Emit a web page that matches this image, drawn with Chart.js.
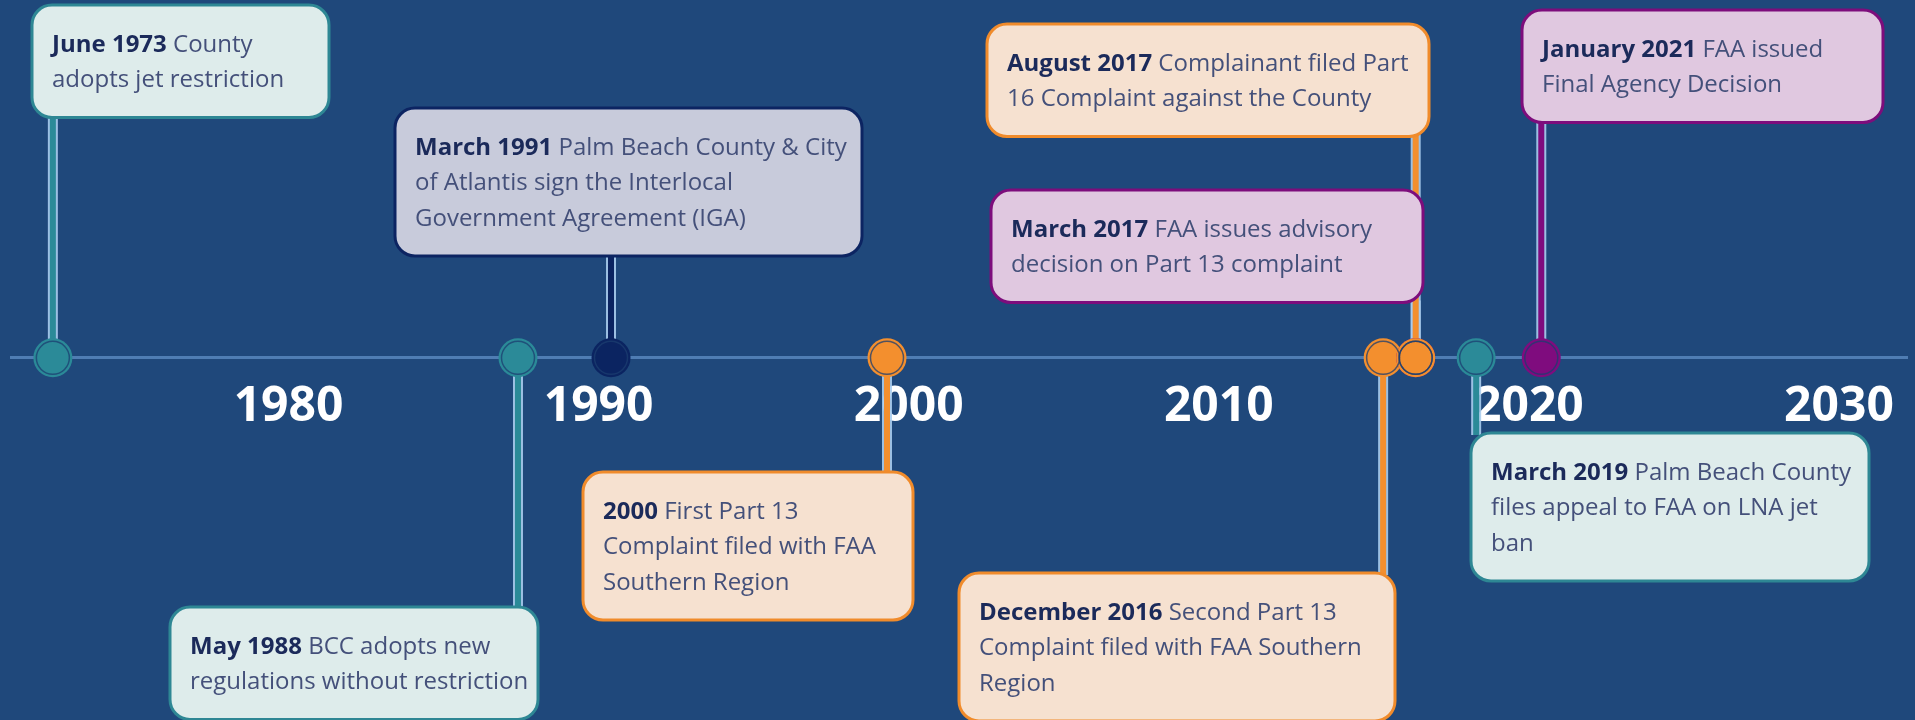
<!DOCTYPE html>
<html>
<head>
<meta charset="utf-8">
<script src="https://cdn.jsdelivr.net/npm/chart.js@4.4.1/dist/chart.umd.min.js"></script>
<style>
  html, body { margin: 0; padding: 0; background: #1f487b; }
  #wrap { width: 1915px; height: 720px; }
</style>
</head>
<body>
<div id="wrap"><canvas id="timeline" width="1915" height="720"></canvas></div>
<script>
// event positions on the year axis
const eventYears = [1972.4, 1987.4, 1990.4, 1999.3, 2015.3, 2016.35, 2016.35, 2018.3, 2020.4];
const eventTitles = ["June 1973", "May 1988", "March 1991", "2000", "December 2016",
  "March 2017", "August 2017", "March 2019", "January 2021"];
const eventLines = [
  ["County", "adopts jet restriction"],
  ["BCC adopts new", "regulations without restriction"],
  ["Palm Beach County & City", "of Atlantis sign the Interlocal", "Government Agreement (IGA)"],
  ["First Part 13", "Complaint filed with FAA", "Southern Region"],
  ["Second Part 13", "Complaint filed with FAA Southern", "Region"],
  ["FAA issues advisory", "decision on Part 13 complaint"],
  ["Complainant filed Part", "16 Complaint against the County"],
  ["Palm Beach County", "files appeal to FAA on LNA jet", "ban"],
  ["FAA issued", "Final Agency Decision"],
];
const eventGroups = ["county", "county", "iga", "complaint", "complaint", "faa", "complaint", "county", "faa"];
const tickYears = [1980, 1990, 2000, 2010, 2020, 2030];

// callout box layout (pixels): left offset from the marker, top, width
const boxDx = [-21, -348, -216, -304, -424, -425, -429, -5, -19];
const boxTop = [5, 607, 108, 472, 573, 190, 24, 433, 10];
const boxWidth = [297, 368, 467, 330, 436, 432, 442, 398, 361];

const groupStyle = {
  county:    { mark: "#2b8a98", edge: "#2e8794", fill: "#deeceb" },
  iga:       { mark: "#0b2461", edge: "#0c2462", fill: "#c8cbdb" },
  complaint: { mark: "#f38f2e", edge: "#f08b2b", fill: "#f6e1d0" },
  faa:       { mark: "#7f0c7e", edge: "#7d0d7c", fill: "#e0c8e0" },
};

const FONT = "'Open Sans', 'Noto Sans', sans-serif";
const TEXT_SIZE = 24;
const LINE_GAP = 35.5;

function roundBox(ctx, x, y, w, h, r) {
  ctx.beginPath();
  ctx.moveTo(x + r, y);
  ctx.arcTo(x + w, y, x + w, y + h, r);
  ctx.arcTo(x + w, y + h, x, y + h, r);
  ctx.arcTo(x, y + h, x, y, r);
  ctx.arcTo(x, y, x + w, y, r);
  ctx.closePath();
}

function boxHeight(i) {
  return 77 + LINE_GAP * (eventLines[i].length - 1);
}

// stems under the markers, callout boxes on top
const timelinePlugin = {
  id: "timeline",
  beforeDatasetsDraw(chart) {
    const ctx = chart.ctx;
    const xs = chart.scales.x;
    const y0 = chart.scales.y.getPixelForValue(0);
    ctx.save();
    eventYears.forEach((yr, i) => {
      const px = xs.getPixelForValue(yr);
      const top = boxTop[i];
      const end = top < y0 ? top + boxHeight(i) - 2 : top + 2;
      ctx.lineCap = "butt";
      ctx.strokeStyle = "rgba(170,205,238,0.9)";
      ctx.lineWidth = 10;
      ctx.beginPath(); ctx.moveTo(px, y0); ctx.lineTo(px, end); ctx.stroke();
      ctx.strokeStyle = groupStyle[eventGroups[i]].mark;
      ctx.lineWidth = 6;
      ctx.beginPath(); ctx.moveTo(px, y0); ctx.lineTo(px, end); ctx.stroke();
    });
    ctx.restore();
  },
  afterDatasetsDraw(chart) {
    const ctx = chart.ctx;
    const xs = chart.scales.x;
    ctx.save();
    eventYears.forEach((yr, i) => {
      const st = groupStyle[eventGroups[i]];
      const left = Math.round(xs.getPixelForValue(yr)) + boxDx[i];
      const top = boxTop[i];
      roundBox(ctx, left, top, boxWidth[i], boxHeight(i), 20);
      ctx.fillStyle = st.fill;
      ctx.fill();
      ctx.lineWidth = 3;
      ctx.strokeStyle = st.edge;
      ctx.stroke();

      ctx.textBaseline = "middle";
      ctx.textAlign = "left";
      const tx = left + 20;
      eventLines[i].forEach((line, k) => {
        const ty = top + 40 + k * LINE_GAP;
        let x = tx;
        if (k === 0) {
          ctx.font = `700 ${TEXT_SIZE}px ${FONT}`;
          ctx.fillStyle = "#1b2a5a";
          ctx.fillText(eventTitles[i], x, ty);
          x += ctx.measureText(eventTitles[i] + " ").width;
        }
        ctx.font = `400 ${TEXT_SIZE}px ${FONT}`;
        ctx.fillStyle = "#44507a";
        ctx.fillText(line, x, ty);
      });
    });
    ctx.restore();
  },
};

const points = eventYears.map((x) => ({ x: x, y: 0 }));
const markColors = eventGroups.map((g) => groupStyle[g].mark);

new Chart(document.getElementById("timeline"), {
  type: "scatter",
  data: {
    datasets: [
      {
        data: points,
        order: 2,
        pointRadius: 19.5,
        pointBorderWidth: 0,
        pointBackgroundColor: markColors,
      },
      {
        data: points,
        order: 1,
        pointRadius: 16.5,
        pointBorderWidth: 1.5,
        pointBorderColor: "rgba(28,62,112,0.75)",
        pointBackgroundColor: "rgba(0,0,0,0)",
      },
    ],
  },
  options: {
    responsive: false,
    animation: false,
    events: [],
    layout: { autoPadding: false, padding: { left: 11, right: 4, top: 0, bottom: 0 } },
    plugins: { legend: { display: false }, tooltip: { enabled: false } },
    scales: {
      x: {
        type: "linear",
        position: { y: 0 },
        min: 1971.05,
        max: 2032.22,
        afterBuildTicks: (scale) => {
          scale.ticks = tickYears.map((v) => ({ value: v }));
        },
        grid: { display: false, drawTicks: false },
        border: { display: true, color: "#4f7db3", width: 3 },
        ticks: {
          color: "#ffffff",
          padding: 21,
          maxRotation: 0,
          font: { family: FONT, size: 48, weight: "700" },
          callback: (v) => String(v),
        },
      },
      y: { display: false, min: -1, max: 0.988 },
    },
  },
  plugins: [timelinePlugin],
});
</script>
</body>
</html>
